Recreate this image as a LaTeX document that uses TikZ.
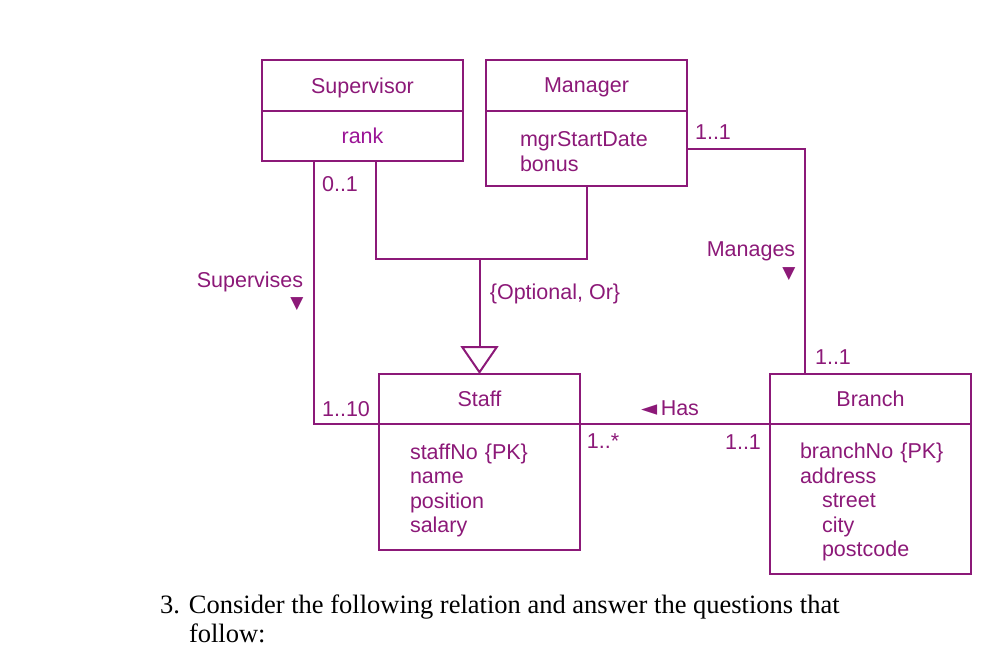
\documentclass[tikz,border=0pt]{standalone}
\usepackage{fontspec}
\setmainfont{Liberation Sans}
\newfontfamily\questionfont{Liberation Serif}
\newfontfamily\symfont{DejaVu Sans}
\usetikzlibrary{arrows.meta, positioning}
\definecolor{UmlColor}{RGB}{140, 25, 120}
\definecolor{RankColor}{RGB}{155, 20, 150}
\newcommand{\umlfont}{\fontsize{21.5}{24.5}\selectfont}
\newcommand{\dirmark}[2]{{\symfont\fontsize{#1}{#1}\selectfont #2}}

\begin{document}
\begin{tikzpicture}[
    x=1pt, y=-1pt,
    every node/.style={outer sep=0pt},
    umlhead/.style={
        draw=UmlColor, line width=2pt, text=UmlColor, text depth=0pt,
        minimum width=201pt, minimum height=50pt, font=\umlfont
    },
    umlbody/.style={
        draw=UmlColor, line width=2pt, text=UmlColor,
        text width=201pt, inner xsep=0pt, inner ysep=0pt,
        align=left, font=\umlfont
    },
    lbl/.style={text=UmlColor, font=\umlfont, anchor=base, inner sep=0pt},
    assoc/.style={draw=UmlColor, line width=2pt},
]
\useasboundingbox (0,0) rectangle (986,657);

%% Classes
\node[umlhead, minimum height=51pt] (sup) at (362.5, 85.5) {Supervisor};
\node[umlbody, below=0pt of sup, minimum height=50pt, align=center,
      text=RankColor] (supattr) {rank};

\node[umlhead, minimum height=51pt] (mgr) at (586.5, 85.5) {Manager};
\node[umlbody, below=0pt of mgr, minimum height=75pt] (mgrattr)
    {\leftskip=34pt\relax\rule{0pt}{21pt}mgrStartDate\\bonus\par};

\node[umlhead] (staff) at (479.5, 399) {Staff};
\node[umlbody, below=0pt of staff, minimum height=126pt] (staffattr)
    {\leftskip=31pt\relax\rule{0pt}{22pt}staffNo \{PK\}\\name\\position\\salary\par};

\node[umlhead] (branch) at (870.5, 399) {Branch};
\node[umlbody, below=0pt of branch, minimum height=150pt] (brattr)
    {\leftskip=30pt\relax\rule{0pt}{22pt}branchNo \{PK\}\\address\\
     \hspace*{22pt}street\\\hspace*{22pt}city\\\hspace*{22pt}postcode\par};

%% Supervises
\draw[assoc] ([xshift=52pt]supattr.south west) |- (staffattr.north west);
\node[lbl] (supmin) at (340, 191) {0..1};
\node[lbl] (supmax) at (346, 416) {1..10};
\node[lbl] (supname) at (250, 287) {Supervises};
\node[lbl] (supdir) at (297, 308) {\dirmark{17}{▼}};

%% Generalization
\coordinate (gen) at (479.5, 259);
\draw[assoc] ([xshift=114pt]supattr.south west) |- (gen) -| (mgrattr.south);
\draw[assoc, -{Triangle[open, length=28pt, width=38pt]}] (gen) -- (staff.north);
\node[lbl] (constraint) at (555, 299) {\{Optional, Or\}};

%% Manages
\draw[assoc] (mgrattr.east) -| ([xshift=35pt]branch.north west);
\node[lbl] (mgrmult) at (713, 139) {1..1};
\node[lbl] (mgrname) at (751, 256) {Manages};
\node[lbl] (mgrdir) at (789, 278) {\dirmark{17}{▼}};
\node[lbl] (brmult) at (833, 364) {1..1};

%% Has
\draw[assoc] (staffattr.north east) -- (brattr.north west);
\node[lbl] (hasname) at (670, 415) {\dirmark{21}{◄}\,Has};
\node[lbl] (hasmany) at (603, 448) {1..*};
\node[lbl] (hasone) at (743, 449) {1..1};

%% Question
\node[anchor=base west, inner sep=0pt, align=left,
      font=\questionfont\fontsize{26.5}{29}\selectfont] (question) at (160, 642)
    {\makebox[29pt][l]{3.}Consider the following relation and answer the questions that\\
     \hspace*{29pt}follow:};

\end{tikzpicture}
\end{document}
